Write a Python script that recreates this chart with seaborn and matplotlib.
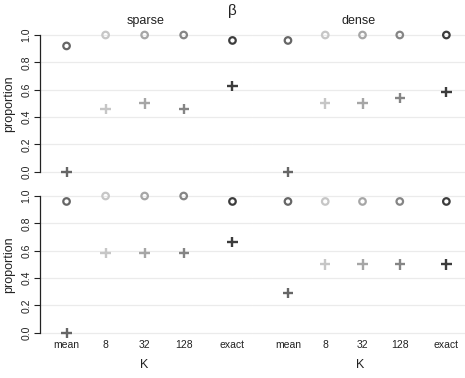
import numpy as np
import pandas as pd
import matplotlib
matplotlib.use("Agg")
import matplotlib.pyplot as plt
import seaborn as sns

sns.set_style("white")
plt.rcParams['font.family'] = ['Liberation Sans', 'DejaVu Sans']

K_labels = ["mean", "8", "32", "128", "exact"]
facets = ["sparse", "dense"]

# row 1
r1_sparse_circle = [0.92, 1.0, 1.0, 1.0, 0.96]
r1_sparse_plus = [0.0, 0.46, 0.50, 0.46, 0.625]
r1_dense_circle = [0.96, 1.0, 1.0, 1.0, 1.0]
r1_dense_plus = [0.0, 0.50, 0.50, 0.54, 0.585]
# row 2
r2_sparse_circle = [0.96, 1.0, 1.0, 1.0, 0.96]
r2_sparse_plus = [0.0, 0.585, 0.585, 0.585, 0.665]
r2_dense_circle = [0.96, 0.96, 0.96, 0.96, 0.96]
r2_dense_plus = [0.29, 0.50, 0.50, 0.50, 0.50]

rows = [
    {"sparse": (r1_sparse_circle, r1_sparse_plus), "dense": (r1_dense_circle, r1_dense_plus)},
    {"sparse": (r2_sparse_circle, r2_sparse_plus), "dense": (r2_dense_circle, r2_dense_plus)},
]

palette = {"mean": "#666666", "8": "#c6c6c6", "32": "#a6a6a6", "128": "#858585", "exact": "#3c3c3c"}
xpos = {"mean": 1.0, "8": 2.0, "32": 3.0, "128": 4.0, "exact": 5.25}

W, H = 465, 378
fig = plt.figure(figsize=(W / 100, H / 100), dpi=100)

def fx(px):
    return px / W

def fy(py):
    return 1 - py / H

unit = 136.7
row_tops = [35 - 0.04 * unit, 196 - 0.04 * unit]
row_h = 1.08 * unit
panels_x = [(40, 252, (0.32, 5.75)), (252, 465, (0.035, 5.75))]

for ri, row in enumerate(rows):
    top = row_tops[ri]
    for ci, fac in enumerate(facets):
        x0, x1, xl = panels_x[ci]
        ax = fig.add_axes([fx(x0), fy(top + row_h), fx(x1) - fx(x0), row_h / H])
        circ, plus = row[fac]
        df_c = pd.DataFrame({"K": K_labels, "x": [xpos[k] for k in K_labels], "y": circ})
        df_p = pd.DataFrame({"K": K_labels, "x": [xpos[k] for k in K_labels], "y": plus})
        for yv in np.arange(0, 1.01, 0.2):
            ax.axhline(yv, color="#ebebeb", lw=0.9, zorder=0)
        sns.scatterplot(data=df_c, x="x", y="y", hue="K", palette=palette, marker="o",
                        s=22, linewidth=1.6, legend=False, ax=ax, zorder=3)
        coll = ax.collections[-1]
        coll.set_edgecolors(coll.get_facecolors())
        coll.set_facecolors("none")
        sns.scatterplot(data=df_p, x="x", y="y", hue="K", palette=palette, marker="+",
                        s=55, linewidth=1.7, legend=False, ax=ax, zorder=3)
        ax.set_xlim(*xl)
        ax.set_ylim(-0.04, 1.04)
        for sp in ax.spines.values():
            sp.set_visible(False)
        ax.set_xlabel("")
        ax.set_ylabel("")
        ax.set_facecolor("none")
        if ci == 0:
            ax.spines["left"].set_visible(True)
            ax.spines["left"].set_bounds(0, 1)
            ax.spines["left"].set_color("#222222")
            ax.spines["left"].set_linewidth(0.9)
            ax.set_yticks([0, 0.2, 0.4, 0.6, 0.8, 1.0])
            ax.set_yticklabels(["0.0", "0.2", "0.4", "0.6", "0.8", "1.0"], rotation=90,
                               va="center", fontsize=7.5, color="#222222")
            ax.tick_params(axis="y", left=True, length=4, width=0.8, color="#222222", pad=2)
            ax.set_ylabel("proportion", fontsize=9, color="#222222", labelpad=5)
        else:
            ax.set_yticks([])
        if ri == 1:
            ax.set_xticks([xpos[k] for k in K_labels])
            ax.set_xticklabels(K_labels, fontsize=7.5, color="#222222")
            ax.tick_params(axis="x", bottom=False, length=0, pad=1)
        else:
            ax.set_xticks([])
        if ri == 0:
            ax.set_title(fac, fontsize=9, color="#222222", pad=4)

fig.text(fx(144), fy(365), "K", fontsize=9, ha="center", va="center", color="#222222")
fig.text(fx(360), fy(365), "K", fontsize=9, ha="center", va="center", color="#222222")
fig.text(fx(232), fy(11), "β", fontsize=11, ha="center", va="center", color="#222222")

fig.savefig("out.png", dpi=100)
